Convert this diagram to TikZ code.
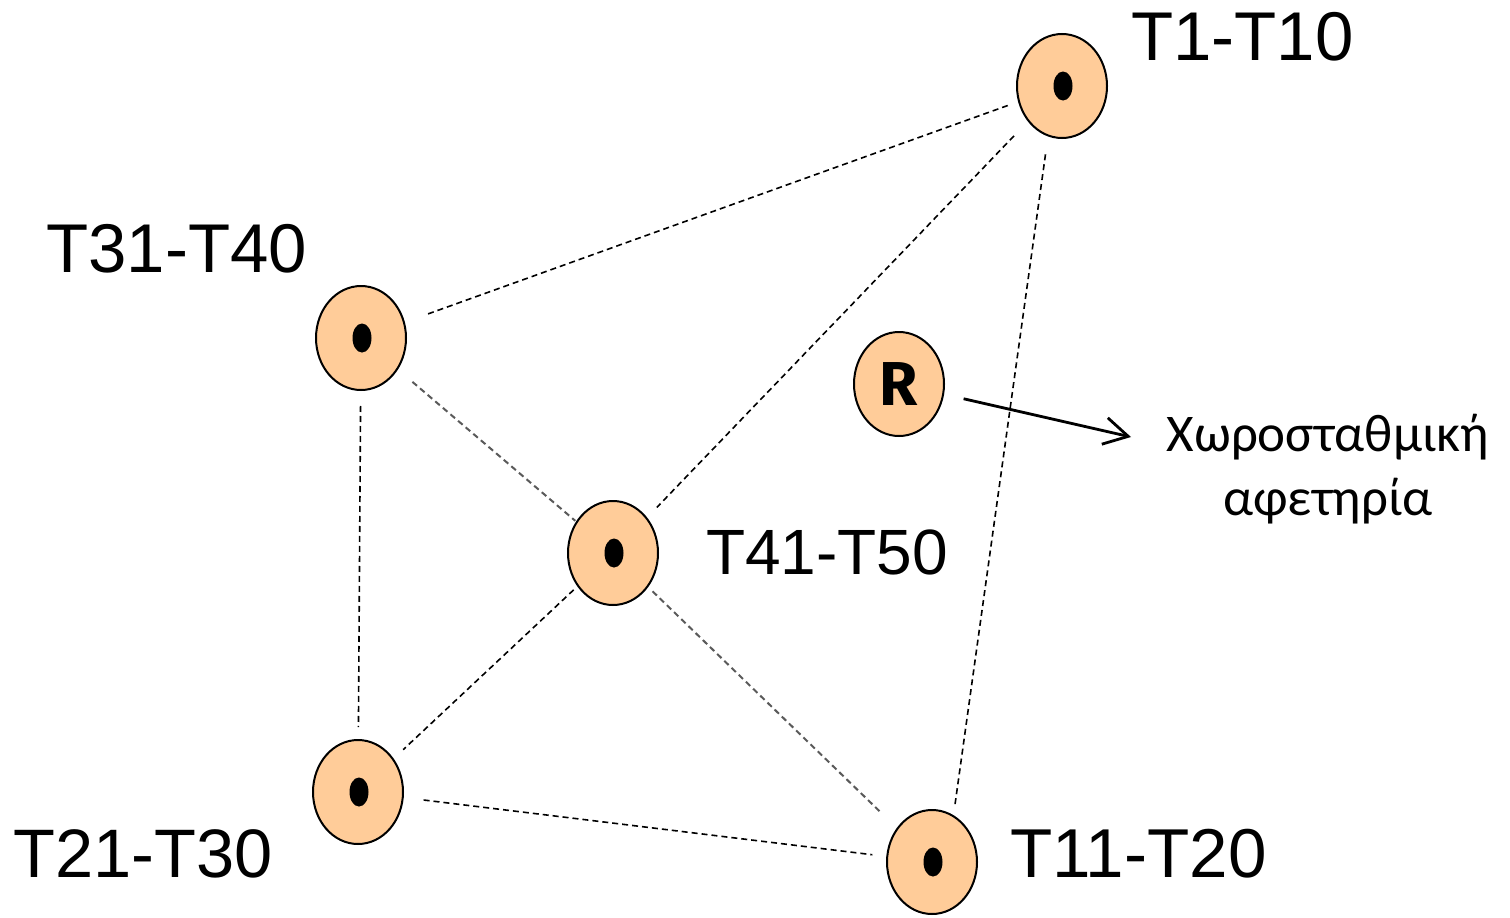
\documentclass[tikz,border=0pt]{standalone}
\usepackage{fontspec}
\setmainfont{Liberation Sans}
\newfontfamily\greekfont{Carlito}
\newfontfamily\rfont{Fira Sans}
\usetikzlibrary{shapes.geometric,arrows.meta}
\definecolor{peach}{HTML}{FFCC99}
\definecolor{linkgray}{HTML}{5A5A5A}
\tikzset{
  site/.style={ellipse, draw=black, line width=2pt, fill=peach,
    minimum width=90pt, minimum height=104pt, inner sep=0pt,
    path picture={\fill[black] (path picture bounding box.center) ++(1pt,0) ellipse (9.5pt and 14.5pt);}},
  root/.style={ellipse, draw=black, line width=2pt, fill=peach,
    minimum width=90pt, minimum height=104pt, inner sep=0pt,
    font=\rfont\bfseries\fontsize{62}{62}\selectfont},
  tag/.style={anchor=base west, inner sep=0pt},
  link/.style={draw=black, line width=1.6pt, dash pattern=on 6pt off 4pt},
  greylink/.style={draw=linkgray, line width=2pt, dash pattern=on 6pt off 4pt},
  pointer/.style={draw=black, line width=2.8pt, -{Straight Barb[length=24pt,width=27pt,line width=2.8pt]}}
}
\newcommand{\tagsize}[1]{\fontsize{#1}{#1}\selectfont}
\begin{document}
\begin{tikzpicture}[x=1pt,y=-1pt]
\useasboundingbox (0,0) rectangle (1510,918);

% sites
\node[site] (s1)  at (1062,86) {};
\node[site] (s31) at (361,338) {};
\node[site] (s41) at (613,553) {};
\node[site] (s21) at (358,792) {};
\node[site] (s11) at (932,862) {};
\node[root] (r)   at (899,384) {R};

% labels
\node[tag, font=\tagsize{69}]   (l1)  at (1131,60)  {T1-T10};
\node[tag, font=\tagsize{69}]   (l31) at (46,272)   {T31-T40};
\node[tag, font=\tagsize{64}]   (l41) at (706,574)  {T41-T50};
\node[tag, font=\tagsize{68.6}] (l21) at (13,877)   {T21-T30};
\node[tag, font=\tagsize{69.2}] (l11) at (1010,877) {T11-T20};

\node[align=center, inner sep=0pt, anchor=base, font=\greekfont\fontsize{53}{64}\selectfont]
  (gr) at (1328,515) {Χωροσταθμική\\αφετηρία};

% links between sites
\draw[link, shorten <=11pt, shorten >=23pt] (s1) -- (s31);
\draw[link, shorten <=20pt, shorten >=14pt] (s1) -- (s41);
\draw[link, shorten <=69pt, shorten >=57pt] ([xshift=-7pt]s1.center) -- ([xshift=15pt]s11.center);
\draw[link, shorten <=15pt, shorten >=12pt] (s31) -- (s21);
\draw[greylink, shorten <=19pt, shorten >=1pt] (s31) -- (s41);
\draw[link, shorten <=5pt, shorten >=13pt] (s41) -- (s21);
\draw[greylink, shorten <=6pt, shorten >=24pt] (s41) -- (s11);
\draw[link, shorten <=20pt, shorten >=14pt] (s21) -- (s11);

% pointer from the reference point to its caption
\coordinate (tip) at (1131,437);
\draw[pointer, shorten <=20pt] (r) -- (tip);
\end{tikzpicture}
\end{document}
